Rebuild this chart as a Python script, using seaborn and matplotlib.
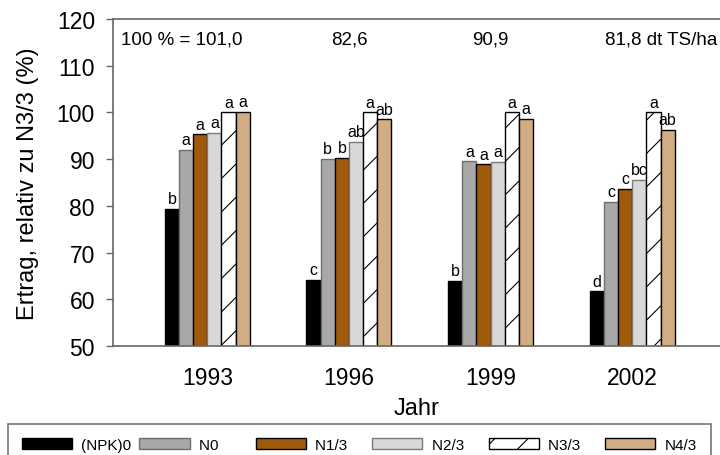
import numpy as np
import pandas as pd
import matplotlib
matplotlib.use("Agg")
import matplotlib.pyplot as plt
import seaborn as sns

years = ["1993", "1996", "1999", "2002"]
treatments = ["(NPK)0", "N0", "N1/3", "N2/3", "N3/3", "N4/3"]

# relative yield (%) per treatment, one value per year
npk0 = [79.4, 64.2, 63.9, 61.7]
n0 = [91.9, 90.1, 89.5, 80.8]
n13 = [95.3, 90.3, 88.9, 83.7]
n23 = [95.6, 93.7, 89.4, 85.5]
n33 = [100.0, 100.0, 100.0, 100.0]
n43 = [100.1, 98.5, 98.7, 96.3]

# significance letters, per year in treatment order
letters = [
    ["b", "a", "a", "a", "a", "a"],
    ["c", "b", "b", "ab", "a", "ab"],
    ["b", "a", "a", "a", "a", "a"],
    ["d", "c", "c", "bc", "a", "ab"],
]
ref_texts = ["100 % = 101,0", "82,6", "90,9", "81,8 dt TS/ha"]

fills = ["#000000", "#a8a8a8", "#a05a0c", "#d8d8d8", "#ffffff", "#d2ad83"]
edges = ["#000000", "#6e6e6e", "#000000", "#7a7a7a", "#000000", "#000000"]

df = pd.DataFrame({
    "Jahr": np.repeat(years, len(treatments)),
    "Variante": treatments * len(years),
    "Ertrag": np.column_stack([npk0, n0, n13, n23, n33, n43]).ravel(),
})

sns.set_style("white")
plt.rcParams["font.family"] = ["Liberation Sans", "DejaVu Sans"]
plt.rcParams["text.color"] = "black"
plt.rcParams["axes.labelcolor"] = "black"
plt.rcParams["xtick.color"] = "black"
plt.rcParams["ytick.color"] = "black"
plt.rcParams["hatch.linewidth"] = 0.8

fig = plt.figure(figsize=(7.2, 4.56), dpi=100)
ax = fig.add_axes([113 / 720, 1 - 347 / 456, 1 - 113 / 720, (347 - 20) / 456])

sns.barplot(data=df, x="Jahr", y="Ertrag", hue="Variante", order=years,
            hue_order=treatments, palette=fills, width=0.6, gap=0,
            saturation=1, errorbar=None, ax=ax, legend=False)

for k, cont in enumerate(ax.containers):
    for i, p in enumerate(cont.patches):
        p.set_edgecolor(edges[k])
        p.set_linewidth(1.0)
        if treatments[k] == "N3/3":
            p.set_hatch("/")
        ax.annotate(letters[i][k], (p.get_x() + p.get_width() / 2, p.get_height()),
                    xytext=(0, 2), textcoords="offset points",
                    ha="center", va="bottom", fontsize=11.5)

ax.set_ylim(50, 120)
ax.set_xlim(-0.666, 3.62)
ax.set_yticks(range(50, 121, 10))
ax.set_ylabel("Ertrag, relativ zu N3/3 (%)", fontsize=17, labelpad=13)
ax.set_xlabel("Jahr", fontsize=17, labelpad=6)
ax.tick_params(axis="y", labelsize=16.5, left=True, length=5, width=1,
               color="#666666", pad=8)
ax.tick_params(axis="x", labelsize=16.5, bottom=False, pad=11)
for s in ["left", "top", "bottom"]:
    ax.spines[s].set_color("#666666")
    ax.spines[s].set_linewidth(1.2)
ax.spines["right"].set_visible(False)

ax.text(-0.61, 115.7, ref_texts[0], ha="left", va="center", fontsize=13.5)
ax.text(1, 115.7, ref_texts[1], ha="center", va="center", fontsize=13.5)
ax.text(2, 115.7, ref_texts[2], ha="center", va="center", fontsize=13.5)
ax.text(3.6, 115.7, ref_texts[3], ha="right", va="center", fontsize=13.5)

# pad shorter labels so the legend columns sit at an even pitch
pad = {"(NPK)0": 0, "N0": 7, "N4/3": 0}
leg_labels = [t + " " * pad.get(t, 4) for t in treatments]
handles = [c.patches[0] for c in ax.containers]
leg = fig.legend(handles, leg_labels, loc="upper left",
                 bbox_to_anchor=(8 / 720, 1 - 425 / 456), ncol=6,
                 fontsize=11, handlelength=3.3, handleheight=0.8,
                 handletextpad=0.6, columnspacing=0.5, borderpad=0.9,
                 borderaxespad=0, frameon=True, fancybox=False,
                 edgecolor="#555555")
leg.get_frame().set_linewidth(1.2)

fig.savefig("out.png", dpi=100)
